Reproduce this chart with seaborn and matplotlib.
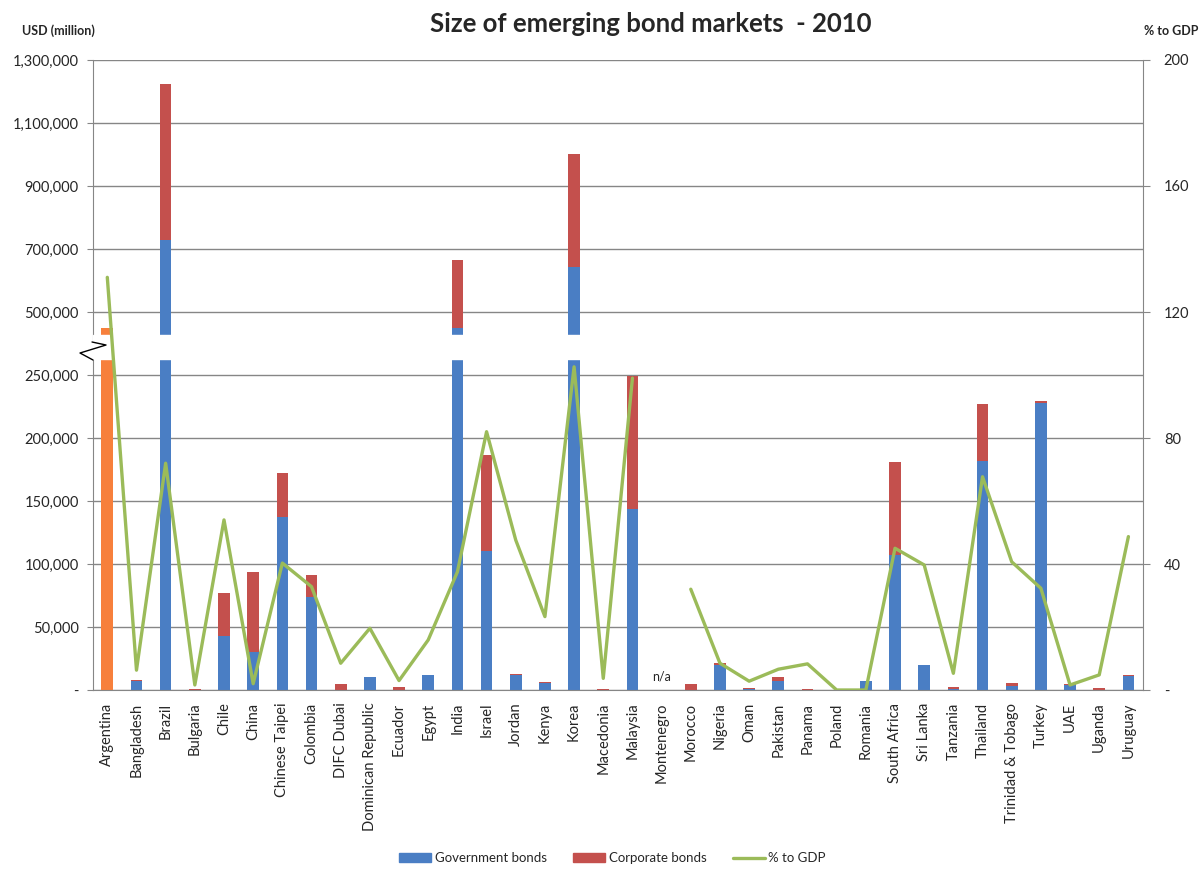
import numpy as np
import pandas as pd
import seaborn as sns
import matplotlib.pyplot as plt
from matplotlib.patches import Patch
from matplotlib.lines import Line2D

# data (USD million, % to GDP)
countries = ['Argentina', 'Bangladesh', 'Brazil', 'Bulgaria', 'Chile', 'China',
             'Chinese Taipei', 'Colombia', 'DIFC Dubai', 'Dominican Republic',
             'Ecuador', 'Egypt', 'India', 'Israel', 'Jordan', 'Kenya', 'Korea',
             'Macedonia', 'Malaysia', 'Montenegro', 'Morocco', 'Nigeria', 'Oman',
             'Pakistan', 'Panama', 'Poland', 'Romania', 'South Africa', 'Sri Lanka',
             'Tanzania', 'Thailand', 'Trinidad & Tobago', 'Turkey', 'UAE', 'Uganda',
             'Uruguay']
gov_bonds = [450000, 7500, 728000, 0, 43000, 30000,
             137000, 73500, 0, 10500,
             0, 12000, 450000, 110000, 12000, 5500, 642000,
             0, 144000, np.nan, 0, 20000, 500,
             7000, 0, 0, 7000, 107000, 19500,
             500, 182000, 3200, 228000, 4000, 0,
             11500]
corp_bonds = [0, 500, 496000, 1000, 34000, 64000,
              35500, 18000, 4800, 0,
              2000, 0, 214000, 76500, 500, 1000, 361000,
              1000, 105000, np.nan, 4800, 1500, 1000,
              3500, 800, 0, 0, 74000, 500,
              1800, 45000, 2600, 1500, 500, 1300,
              600]
pct_gdp = [131, 6.3, 72, 1.6, 54, 2,
           40.3, 32.8, 8.5, 19.6,
           3, 15.9, 37.5, 82, 47.6, 23.3, 102.6,
           3.7, 99, np.nan, 32, 8.5, 2.8,
           6.6, 8.3, 0, 0, 45, 39.7,
           5.3, 67.7, 40.7, 32.3, 1.6, 4.8,
           48.7]

left_ticks = [0, 50000, 100000, 150000, 200000, 250000,
              500000, 700000, 900000, 1100000, 1300000]
right_ticks = [0, 40, 80, 120, 160, 200]

blue = '#4A7EC4'
red = '#C4504D'
green = '#9BBB59'
orange = '#F7803C'
grey = '#868686'

df = pd.DataFrame({'country': countries, 'gov': gov_bonds, 'corp': corp_bonds, 'pct': pct_gdp})
df['total'] = df['gov'] + df['corp']


# broken axis: 0-250k linear, then 300k+ compressed 4x
def fwd(v):
    v = np.asarray(v, dtype=float)
    return np.where(v <= 250000, v, 250000 + np.maximum(v - 300000, 0) / 4)


def inv(y):
    y = np.asarray(y, dtype=float)
    return np.where(y <= 250000, y, 300000 + (y - 250000) * 4)


sns.set_style('white')
plt.rcParams['font.family'] = ['Lato', 'DejaVu Sans']

fig = plt.figure(figsize=(12.01, 8.72), dpi=100)
ax = fig.add_axes([0.0772, 0.2087, 0.8745, 0.7225])

sns.barplot(data=df, x='country', y='total', order=countries, color=red,
            width=0.4, errorbar=None, saturation=1, linewidth=0, ax=ax)
palette = {c: (orange if c == 'Argentina' else blue) for c in countries}
sns.barplot(data=df, x='country', y='gov', order=countries, hue='country',
            palette=palette, legend=False, width=0.4, errorbar=None,
            saturation=1, linewidth=0, ax=ax)

ax.set_yscale('function', functions=(fwd, inv))
ax.set_ylim(0, 1300000)
ax.set_xlim(-0.5, len(countries) - 0.5)
ax.set_yticks(left_ticks)
ax.set_yticklabels(['-'] + [f'{t:,}' for t in left_ticks[1:]])
ax.yaxis.set_minor_locator(plt.NullLocator())
ax.yaxis.grid(True, color=grey, lw=1)
ax.set_axisbelow(True)
ax.set_xlabel('')
ax.set_ylabel('')

# gap in the bars at the break
ax.axhspan(351000, 427000, color='white', zorder=3)

ax.set_xticks(range(len(countries)))
ax.set_xticklabels(countries, rotation=90, fontsize=10.5)
ax.set_xticks(np.arange(-0.5, len(countries)), minor=True)
ax.tick_params(axis='x', which='major', length=0, pad=9)
ax.tick_params(axis='x', which='minor', length=5, color=grey, direction='out')
ax.tick_params(axis='y', length=4, color=grey, labelsize=10.5, pad=6)
for s in ['top', 'right']:
    ax.spines[s].set_visible(False)
for s in ['left', 'bottom']:
    ax.spines[s].set_color(grey)

ax.text(19, 6000, 'n/a', ha='center', va='bottom', fontsize=9)

ax2 = ax.twinx()
ax2.plot(range(len(countries)), df['pct'], color=green, lw=2.4)
ax2.set_ylim(0, 200)
ax2.set_yticks(right_ticks)
ax2.set_yticklabels(['-'] + [str(t) for t in right_ticks[1:]])
ax2.tick_params(axis='y', length=5, color=grey, labelsize=10.5, pad=10)
for s in ['top', 'left', 'bottom']:
    ax2.spines[s].set_visible(False)
ax2.spines['right'].set_color(grey)

# break symbol on the left axis
ya = lambda py: (690 - py) / 630
xa = lambda px: (px - 92.7) / 1050.3
ax.add_patch(plt.Rectangle((xa(88), ya(358)), xa(97) - xa(88), ya(341) - ya(358),
                           transform=ax.transAxes, color='white', clip_on=False, zorder=5))
ax.plot([xa(92), xa(106), xa(80), xa(93)], [ya(342), ya(345), ya(353), ya(360)],
        transform=ax.transAxes, color='black', lw=1, clip_on=False, zorder=6)

fig.text(0.542, 0.972, 'Size of emerging bond markets  - 2010', ha='center',
         va='center', fontsize=18.5, fontweight='bold')
fig.text(0.018, 0.965, 'USD (million)', ha='left', va='center', fontsize=9,
         fontweight='bold')
fig.text(0.998, 0.965, '% to GDP', ha='right', va='center', fontsize=9,
         fontweight='bold')

handles = [Patch(color=blue, label='Government bonds'),
           Patch(color=red, label='Corporate bonds'),
           Line2D([0], [0], color=green, lw=2.4, label='% to GDP')]
fig.legend(handles=handles, loc='lower center', bbox_to_anchor=(0.51, -0.005),
           ncol=3, frameon=False, fontsize=9.5, handlelength=2.4,
           handletextpad=0.3, columnspacing=2.0)

plt.savefig('out.png')
